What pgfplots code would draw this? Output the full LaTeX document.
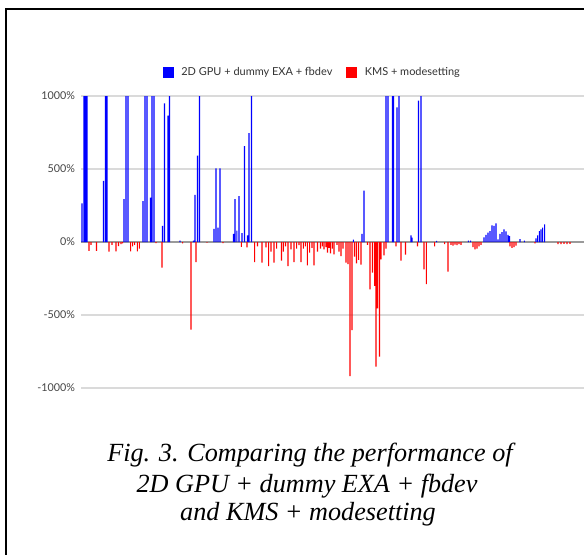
\documentclass[border=0pt]{standalone}
\usepackage{pgfplots}
\pgfplotsset{compat=1.18}
\usepackage{fontspec}
\setmainfont{Lato}
\newfontfamily\capfont{Liberation Serif}
\definecolor{gridgray}{HTML}{DADADA}
\definecolor{zerogray}{HTML}{9A9A9A}
\definecolor{ticktext}{HTML}{444444}
\definecolor{legtext}{HTML}{333333}
\begin{document}
\begin{tikzpicture}
\useasboundingbox (0,0) rectangle (584bp,-555bp);
\draw[line width=2bp] (6bp,-555bp) -- (6bp,-9bp) -- (584bp,-9bp);
\begin{axis}[
  at={(81bp,-388bp)}, anchor=south west,
  scale only axis, width=503bp, height=292bp,
  xmin=81, xmax=584, ymin=-1000, ymax=1000,
  axis line style={draw=none},
  xtick=\empty,
  ytick={-1000,-500,0,500,1000},
  yticklabels={-1000\%,-500\%,0\%,500\%,1000\%},
  yticklabel style={font=\fontsize{10.8}{12}\selectfont, text=ticktext, xshift=-2.5bp},
  ytick style={draw=none},
  ymajorgrids, grid style={gridgray, line width=1.2bp},
  extra y ticks={0}, extra y tick labels={},
  extra y tick style={grid style={zerogray, line width=1.4bp}},
  clip=false,
  legend columns=2,
  legend style={at={(axis description cs:0.46,1.082)}, anchor=center, draw=none,
    font=\fontsize{11}{13}\selectfont, text=legtext,
    /tikz/every even column/.append style={column sep=12bp}},
  legend image code/.code={\fill[#1,draw=none] (0bp,-5.5bp) rectangle (11bp,5.5bp); \path (16.5bp,0bp);},
]
\addplot[ybar, bar width=1.05, bar shift=0pt, fill=blue, draw=none] coordinates {
(82,265)(84,1000)(85.5,1000)(87,1000)
(103.5,418)(105.5,1000)(107,1000)
(124,294)(126,1000)(128,1000)
(143,280)(145,1000)(147,1000)
(150.5,304)(152,1000)(154,1000)
(162.5,110)(164.5,950)(168,865)(169.5,1000)
(180,10)
(193.5,10)(195,322)(197.5,591)(199.5,1000)
(214,90)(216,505)(218,98)(220,505)
(233.5,55)(235,294)(236.8,78)(239,315)(242,60)(244.5,657)(247.5,45)(249,746)(251.5,1000)
(353.3,16)(362,55)(364,352)
(386,1000)(388,1000)(392.5,1000)(393.5,1000)(397,922)(399,1000)
(411,46)(412,30)
(418.5,968)(421,1000)
(436.7,8)
(468.3,10)(470.7,10)
(484,32)(486,48)(488,64)(490,75)(492,114)(494,110)(496,128)(498,18)(500,55)(502,68)(504,87)(506,72)(508,48)(509.5,41)
(520,20)(524.3,10)
(536,25)(537.7,46)(539.3,75)(541,87)(542.7,98)(544.7,121)
};
\addlegendentry{2D GPU + dummy EXA + fbdev}
\addplot[ybar, bar width=1.05, bar shift=0pt, fill=red, draw=none] coordinates {
(89,-60)(91,-20)(96.5,-60)(109,-66)(112,-20)(116,-64)(118.5,-28)(121,-15)(122.7,-10)
(130.7,-64)(132.7,-30)(134.7,-20)(137.3,-64)(139.3,-45)(156,-8)(162,-175)(182.7,-10)
(191,-600)(196,-137)(207,-5)(223,-8)(241.3,-33)(247,-37)(254.7,-137)(257.5,-30)
(262,-142)(266,-37)(268.7,-165)(271,-66)(274,-142)(276.7,-45)(281.5,-128)(283.3,-66)
(285.5,-30)(288,-165)(291,-50)(294,-137)(296.7,-45)(299,-22)(301,-137)(303.3,-45)(305.3,-30)
(307.3,-160)(309.7,-73)(312,-40)(314,-160)(317.5,-66)(320.5,-45)(322.3,-30)(324,-50)(326,-35)
(327.5,-73)(329,-40)(330.5,-78)(332.3,-45)(334,-84)(337,-20)(339,-66)(341,-96)(343,-45)
(346,-142)(348,-151)(350,-918)(352,-603)(354.5,-100)(356.5,-146)(358.7,-123)(361,-155)
(367.5,-20)(370,-324)(372.5,-210)(374.7,-300)(376,-854)(377.5,-454)(379.5,-785)(381,-119)
(384,-91)(386,-45)(396,-30)(401,-128)(405.5,-87)(417.5,-30)(424,-187)(426.3,-288)
(434.7,-30)(444.7,-15)(448,-203)(451,-20)(453,-25)(455,-18)(457,-22)(459,-15)(461,-20)
(473,-35)(475,-50)(477,-45)(479,-30)(481,-20)(510,-30)(512,-40)(514,-35)(516,-25)
(535,-10)(558,-15)(561,-15)(564,-12)(567,-15)(570,-12)
};
\addlegendentry{KMS + modesetting}
\end{axis}
\node[anchor=base, font=\capfont\itshape\fontsize{26.3}{30}\selectfont] at (310bp,-461.7bp) {Fig. 3. Comparing the performance of};
\node[anchor=base, font=\capfont\itshape\fontsize{26.3}{30}\selectfont] at (307bp,-492.7bp) {2D GPU + dummy EXA + fbdev};
\node[anchor=base, font=\capfont\itshape\fontsize{26.3}{30}\selectfont] at (308bp,-520bp) {and KMS + modesetting};
\end{tikzpicture}
\end{document}
